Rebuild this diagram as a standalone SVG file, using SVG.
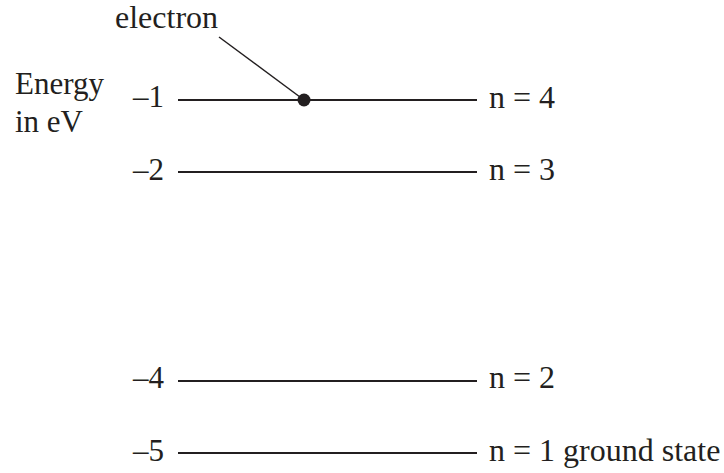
<svg xmlns="http://www.w3.org/2000/svg" width="724" height="473" viewBox="0 0 724 473">
<style>
text{font-family:'Liberation Serif','Times New Roman',serif;font-size:31px;fill:#231f20}
.n{font-size:32px}
.lvl{stroke:#231f20;stroke-width:2.2}
.v{text-anchor:end}
</style>
<rect width="724" height="473" fill="#fff"/>
<g id="axis-label">
<text x="15" y="94">Energy</text>
<text x="15" y="132">in eV</text>
</g>
<g id="level-n4">
<line class="lvl" x1="178" y1="100" x2="477" y2="100"/>
<text class="v" x="164" y="107">–1</text>
<text class="n" x="489" y="108">n = 4</text>
</g>
<g id="level-n3">
<line class="lvl" x1="178" y1="172" x2="477" y2="172"/>
<text class="v" x="164" y="180">–2</text>
<text class="n" x="489" y="180">n = 3</text>
</g>
<g id="level-n2">
<line class="lvl" x1="178" y1="381" x2="477" y2="381"/>
<text class="v" x="164" y="388">–4</text>
<text class="n" x="489" y="388">n = 2</text>
</g>
<g id="level-n1">
<line class="lvl" x1="178" y1="453" x2="477" y2="453"/>
<text class="v" x="164" y="461">–5</text>
<text class="n" x="489" y="461">n = 1 ground state</text>
</g>
<g id="electron">
<circle cx="304" cy="100" r="6.5" fill="#231f20"/>
<text class="n" x="115" y="28">electron</text>
</g>
<g id="connectors">
<line x1="219" y1="37" x2="304" y2="100" stroke="#231f20" stroke-width="1.5"/>
</g>
</svg>
